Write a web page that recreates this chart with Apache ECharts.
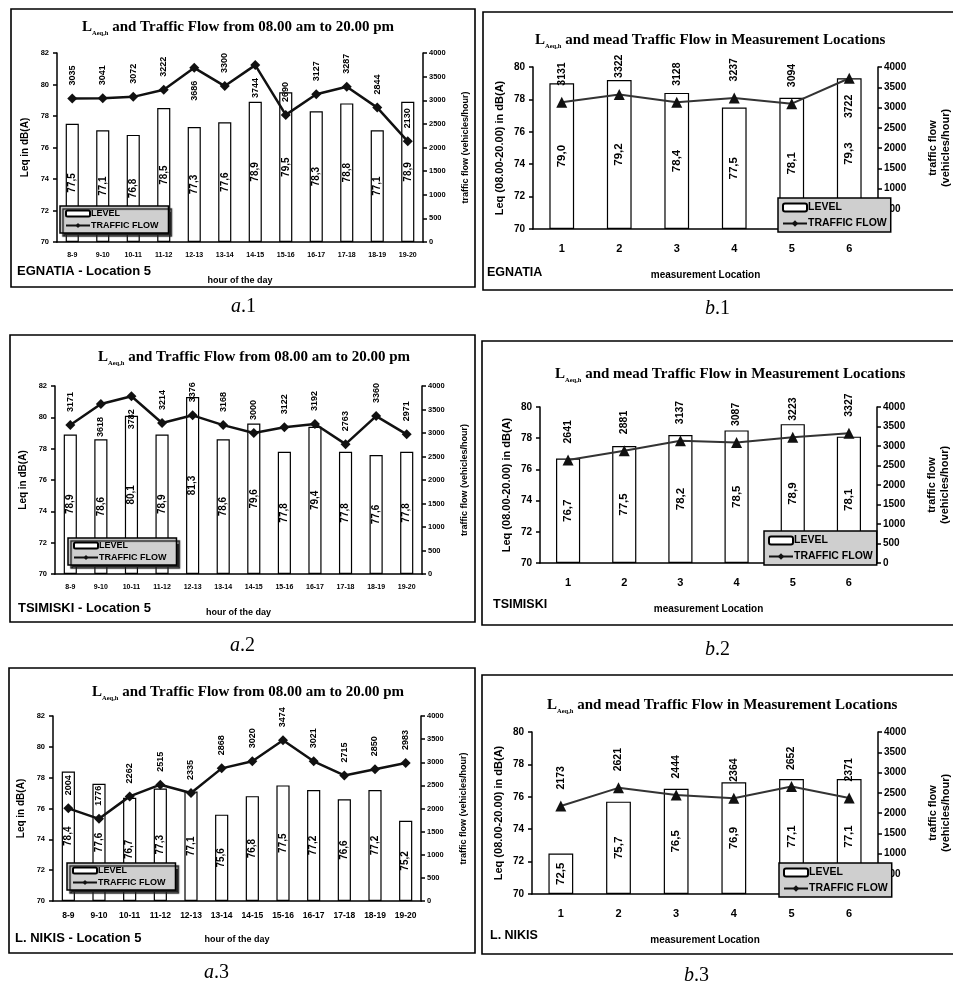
<!DOCTYPE html>
<html>
<head>
<meta charset="utf-8">
<script src="https://cdn.jsdelivr.net/npm/echarts@6/dist/echarts.min.js"></script>
<style>
html, body { margin: 0; padding: 0; background: #fff; }
#main { width: 953px; height: 988px; }
</style>
</head>
<body>
<div id="main"></div>
<script>
// categories
var hours = ['8-9', '9-10', '10-11', '11-12', '12-13', '13-14', '14-15', '15-16', '16-17', '17-18', '18-19', '19-20'];
var locations = ['1', '2', '3', '4', '5', '6'];
// hourly values, location 5
var egnatiaLevelHour = [77.5, 77.1, 76.8, 78.5, 77.3, 77.6, 78.9, 79.5, 78.3, 78.8, 77.1, 78.9];
var egnatiaFlowHour = [3035, 3041, 3072, 3222, 3686, 3300, 3744, 2690, 3127, 3287, 2844, 2130];
var tsimiskiLevelHour = [78.9, 78.6, 80.1, 78.9, 81.3, 78.6, 79.6, 77.8, 79.4, 77.8, 77.6, 77.8];
var tsimiskiFlowHour = [3171, 3618, 3782, 3214, 3376, 3168, 3000, 3122, 3192, 2763, 3360, 2971];
var nikisLevelHour = [78.4, 77.6, 76.7, 77.3, 77.1, 75.6, 76.8, 77.5, 77.2, 76.6, 77.2, 75.2];
var nikisFlowHour = [2004, 1776, 2262, 2515, 2335, 2868, 3020, 3474, 3021, 2715, 2850, 2983];
// mean values per measurement location
var egnatiaLevelLoc = [79.0, 79.2, 78.4, 77.5, 78.1, 79.3];
var egnatiaFlowLoc = [3131, 3322, 3128, 3237, 3094, 3722];
var tsimiskiLevelLoc = [76.7, 77.5, 78.2, 78.5, 78.9, 78.1];
var tsimiskiFlowLoc = [2641, 2881, 3137, 3087, 3223, 3327];
var nikisLevelLoc = [72.5, 75.7, 76.5, 76.9, 77.1, 77.1];
var nikisFlowLoc = [2173, 2621, 2444, 2364, 2652, 2371];

var SANS = 'Liberation Sans';
var SERIF = 'Liberation Serif';

var panels = [
    { kind: 'a', cats: hours, level: egnatiaLevelHour, flow: egnatiaFlowHour, grid: [57, 53, 366, 189],
      box: [11, 9, 464, 278], title: [77, 12], legend: [60, 206], place: 'EGNATIA - Location 5', placeXY: [17, 271], cap: ['a', '.1', 231, 307] },
    { kind: 'b', cats: locations, level: egnatiaLevelLoc, flow: egnatiaFlowLoc, grid: [533, 67, 345, 162],
      box: [483, 12, 480, 278], title: [530, 25], legend: [778, 198], place: 'EGNATIA', placeXY: [487, 273], cap: ['b', '.1', 705, 309] },
    { kind: 'a', cats: hours, level: tsimiskiLevelHour, flow: tsimiskiFlowHour, grid: [55, 386, 367, 188],
      box: [10, 335, 465, 287], title: [93, 342], legend: [68, 538], place: 'TSIMISKI - Location 5', placeXY: [18, 608], cap: ['a', '.2', 230, 646] },
    { kind: 'b', cats: locations, level: tsimiskiLevelLoc, flow: tsimiskiFlowLoc, grid: [540, 407, 337, 156],
      box: [482, 341, 480, 284], title: [550, 359], legend: [764, 531], place: 'TSIMISKI', placeXY: [493, 605], cap: ['b', '.2', 705, 650] },
    { kind: 'a', cats: hours, level: nikisLevelHour, flow: nikisFlowHour, grid: [53, 716, 368, 185],
      box: [9, 668, 466, 285], title: [87, 677], legend: [67, 863], place: 'L. NIKIS - Location 5', placeXY: [15, 938], cap: ['a', '.3', 204, 973] },
    { kind: 'b', cats: locations, level: nikisLevelLoc, flow: nikisFlowLoc, grid: [532, 732, 350, 162],
      box: [482, 675, 480, 279], title: [542, 690], legend: [779, 863], place: 'L. NIKIS', placeXY: [490, 936], cap: ['b', '.3', 684, 976] }
];

var option = {
    animation: false,
    backgroundColor: '#fff',
    grid: [], xAxis: [], yAxis: [], series: [], legend: [], title: [], graphic: []
};

panels.forEach(function (p, i) {
    var isA = p.kind === 'a';
    var tickFont = isA ? 7.5 : 10;
    option.grid.push({ left: p.grid[0], top: p.grid[1], width: p.grid[2], height: p.grid[3] });

    option.title.push({
        left: p.title[0], top: p.title[1],
        text: isA ? '{l|L}{s|Aeq,h}{t| and Traffic Flow from 08.00 am to 20.00 pm}'
                  : '{l|L}{s|Aeq,h}{t| and mead Traffic Flow in Measurement Locations}',
        textStyle: {
            rich: {
                l: { fontFamily: SERIF, fontSize: 15, color: '#000', lineHeight: 20, verticalAlign: 'middle' },
                s: { fontFamily: SERIF, fontSize: 6.5, fontWeight: 'bold', color: '#000', lineHeight: 20, verticalAlign: 'bottom' },
                t: { fontFamily: SERIF, fontSize: 15, color: '#000', lineHeight: 20, verticalAlign: 'middle' }
            }
        }
    });

    option.xAxis.push({
        type: 'category', gridIndex: i, data: p.cats,
        name: isA ? 'hour of the day' : 'measurement Location',
        nameLocation: 'middle', nameGap: isA ? 34 : 41,
        nameTextStyle: { fontFamily: SANS, fontWeight: 'bold', fontSize: isA ? 9 : 10, color: '#000' },
        axisLine: { lineStyle: { color: '#000', width: 1.5 } },
        axisTick: { length: 4, lineStyle: { color: '#000', width: 1.5 } },
        axisLabel: { fontFamily: SANS, fontWeight: 'bold', fontSize: isA ? (i === 4 ? 8.5 : 7) : 11, color: '#000', margin: isA ? 10 : 14, interval: 0 }
    });

    option.yAxis.push({
        type: 'value', gridIndex: i, position: 'left',
        min: 70, max: isA ? 82 : 80, interval: 2, startValue: 70,
        name: isA ? 'Leq in dB(A)' : 'Leq (08.00-20.00) in dB(A)',
        nameLocation: 'middle', nameRotate: 90, nameGap: isA ? 27 : 28,
        nameTextStyle: { fontFamily: SANS, fontWeight: 'bold', fontSize: isA ? 10 : 11, color: '#000' },
        splitLine: { show: false },
        axisLine: { show: true, lineStyle: { color: '#000', width: 1.5 } },
        axisTick: { show: true, length: 4, lineStyle: { color: '#000', width: 1.5 } },
        axisLabel: { fontFamily: SANS, fontWeight: 'bold', fontSize: tickFont, color: '#000', margin: 8 }
    });
    option.yAxis.push({
        type: 'value', gridIndex: i, position: 'right',
        min: 0, max: 4000, interval: 500,
        name: isA ? 'traffic flow (vehicles/hour)' : 'traffic flow\n(vehicles/hour)',
        nameLocation: 'middle', nameRotate: 90, nameGap: isA ? 36 : 48,
        nameTextStyle: { fontFamily: SANS, fontWeight: 'bold', fontSize: isA ? 9 : 11, color: '#000', lineHeight: 13 },
        splitLine: { show: false },
        axisLine: { show: true, lineStyle: { color: '#000', width: 1.5 } },
        axisTick: { show: true, length: 4, lineStyle: { color: '#000', width: 1.5 } },
        axisLabel: {
            fontFamily: SANS, fontWeight: 'bold', fontSize: tickFont, color: '#000', margin: 6,
            formatter: function (v) { return String(v); }
        }
    });

    option.series.push({
        name: 'LEVEL', type: 'bar', xAxisIndex: i, yAxisIndex: 2 * i,
        barWidth: '43%',
        itemStyle: { color: '#fff', borderColor: '#000', borderWidth: 1.2 },
        label: {
            show: true, position: 'inside', rotate: 90, align: 'center', verticalAlign: 'middle',
            fontFamily: SANS, fontWeight: 'bold', fontSize: isA ? 10 : 11.5, color: '#000',
            formatter: function (d) { return d.value.toFixed(1).replace('.', ','); }
        },
        data: p.level
    });
    option.series.push({
        name: 'TRAFFIC FLOW', type: 'line', xAxisIndex: i, yAxisIndex: 2 * i + 1,
        symbol: isA ? 'diamond' : 'triangle', symbolSize: isA ? 10 : 11,
        lineStyle: { color: isA ? '#111' : '#333', width: isA ? 2.5 : 2 },
        itemStyle: { color: '#111' },
        z: 3,
        label: {
            show: true, position: 'top', rotate: 90, align: 'left', verticalAlign: 'middle', distance: isA ? 8 : 11,
            fontFamily: SANS, fontWeight: 'bold', fontSize: isA ? 9 : 10.5, color: '#000'
        },
        data: p.flow.map(function (v) {
            return v >= 3600 ? { value: v, label: { position: 'bottom', align: 'right' } } : v;
        })
    });

    option.legend.push({
        data: ['LEVEL', 'TRAFFIC FLOW'],
        orient: 'vertical', left: p.legend[0], top: p.legend[1],
        padding: isA ? [3, 10, 3, 5] : [4, 4, 3, 4], itemGap: isA ? 3 : 5,
        itemWidth: 24, itemHeight: isA ? 6 : 8,
        backgroundColor: '#cfcfcf', borderColor: '#000', borderWidth: 1.5,
        shadowColor: isA ? '#222' : 'rgba(0,0,0,0)', shadowBlur: 1, shadowOffsetX: 3, shadowOffsetY: 3,
        selectedMode: false,
        textStyle: { fontFamily: SANS, fontWeight: 'bold', fontSize: isA ? 9 : 10.5, color: '#000', padding: [0, 0, 0, -4] },
        z: 10
    });

    option.graphic.push({
        type: 'rect', silent: true, z: 100,
        shape: { x: p.box[0], y: p.box[1], width: p.box[2], height: p.box[3] },
        style: { fill: 'none', stroke: '#000', lineWidth: 1.6 }
    });
    option.graphic.push({
        type: 'text', silent: true, x: p.placeXY[0], y: p.placeXY[1],
        style: { text: p.place, font: 'bold ' + (isA ? 13 : 12.5) + 'px "' + SANS + '"', fill: '#000', verticalAlign: 'middle' }
    });
    option.graphic.push({
        type: 'text', silent: true, x: p.cap[2], y: p.cap[3],
        style: {
            text: '{i|' + p.cap[0] + '}{n|' + p.cap[1] + '}', verticalAlign: 'middle',
            rich: {
                i: { fontFamily: SERIF, fontStyle: 'italic', fontSize: 20, fill: '#000', color: '#000' },
                n: { fontFamily: SERIF, fontSize: 20, fill: '#000', color: '#000' }
            }
        }
    });
});

var myChart = echarts.init(document.getElementById('main'));
myChart.setOption(option);
window.addEventListener('resize', function () {
    myChart.resize();
});
</script>
</body>
</html>
